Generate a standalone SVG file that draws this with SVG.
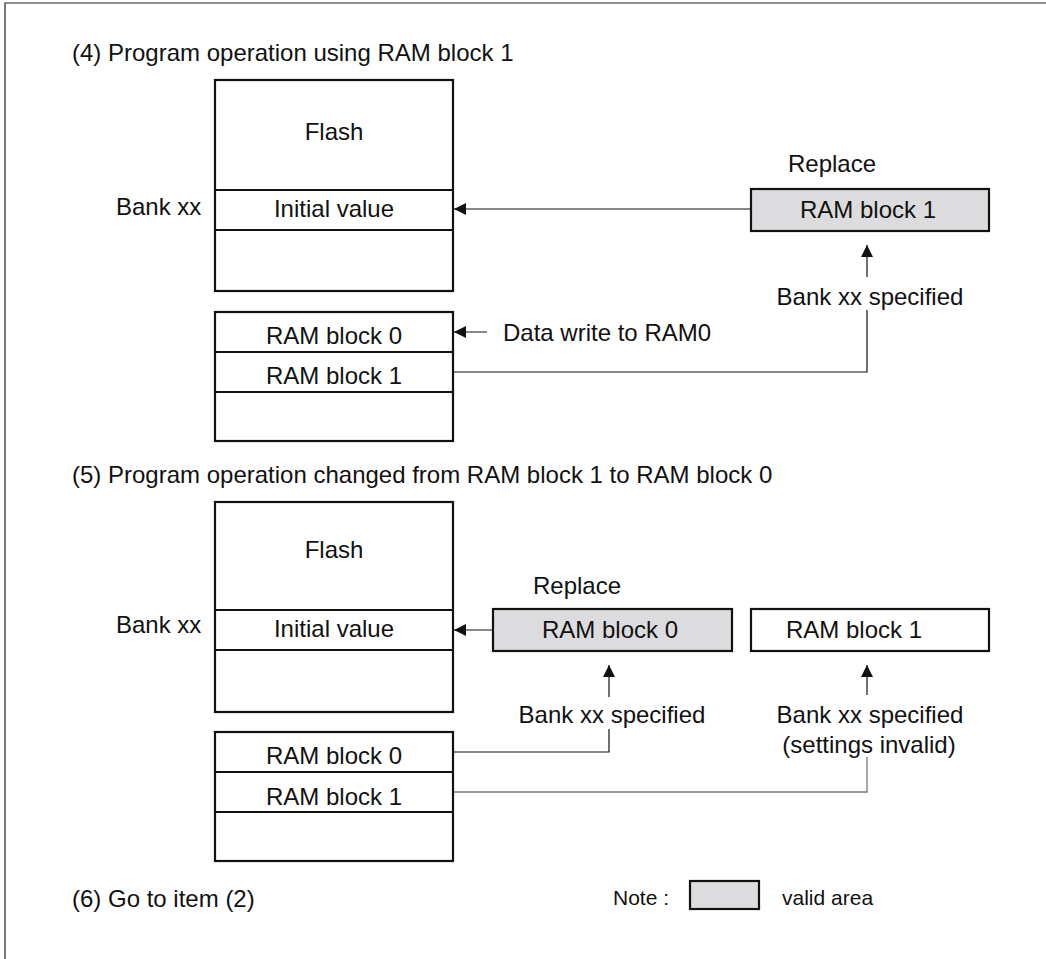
<svg xmlns="http://www.w3.org/2000/svg" width="1046" height="959" viewBox="0 0 1046 959">
<style>
text{font-family:"Liberation Sans",Arial,sans-serif;font-size:24px;fill:#111}
.c{text-anchor:middle}
.sm{font-size:21px}
.box{fill:#fff;stroke:#111;stroke-width:2.2}
.gbox{fill:#dcdcde;stroke:#111;stroke-width:2.2}
.div{stroke:#111;stroke-width:2.2;fill:none}
.ln{stroke:#111;stroke-width:1.2;fill:none}
.lg{stroke:#777;stroke-width:1.3;fill:none}
.frame{stroke:#222;stroke-width:1.2;fill:none}
</style>
<defs>
<marker id="ah" viewBox="0 0 12 12" refX="12" refY="6" markerWidth="12" markerHeight="12" markerUnits="userSpaceOnUse" orient="auto">
<path d="M0,0 L12,6 L0,12 Z" fill="#111"/>
</marker>
</defs>
<rect width="1046" height="959" fill="#fff"/>
<path class="frame" d="M5,959 V3 H1046"/>

<text x="72" y="61">(4) Program operation using RAM block 1</text>
<g id="flash1">
<rect class="box" x="215" y="80" width="238" height="211"/>
<path class="div" d="M215,190 H453 M215,230 H453"/>
<text class="c" x="334" y="140">Flash</text>
<text class="c" x="334" y="217">Initial value</text>
</g>
<text x="116" y="215">Bank xx</text>
<g id="ram1">
<rect class="box" x="215" y="312" width="238" height="129"/>
<path class="div" d="M215,352 H453 M215,392 H453"/>
<text class="c" x="334" y="344">RAM block 0</text>
<text class="c" x="334" y="384">RAM block 1</text>
</g>
<g id="rep1">
<text x="788" y="172">Replace</text>
<rect class="gbox" x="751" y="189" width="238" height="42"/>
<text class="c" x="868" y="218">RAM block 1</text>
</g>
<text class="c" x="870" y="305">Bank xx specified</text>
<text x="503" y="341">Data write to RAM0</text>

<text x="72" y="483">(5) Program operation changed from RAM block 1 to RAM block 0</text>
<g id="flash2">
<rect class="box" x="215" y="502" width="238" height="210"/>
<path class="div" d="M215,610 H453 M215,650 H453"/>
<text class="c" x="334" y="558">Flash</text>
<text class="c" x="334" y="637">Initial value</text>
</g>
<text x="116" y="633">Bank xx</text>
<g id="ram2">
<rect class="box" x="215" y="732" width="238" height="129"/>
<path class="div" d="M215,772 H453 M215,812 H453"/>
<text class="c" x="334" y="764">RAM block 0</text>
<text class="c" x="334" y="805">RAM block 1</text>
</g>
<g id="rep2">
<text x="533" y="594">Replace</text>
<rect class="gbox" x="493" y="609" width="239" height="42"/>
<text class="c" x="610" y="638">RAM block 0</text>
</g>
<g id="ramb1">
<rect class="box" x="751" y="609" width="238" height="42"/>
<text class="c" x="854" y="638">RAM block 1</text>
</g>
<text class="c" x="612" y="723">Bank xx specified</text>
<text class="c" x="870" y="723">Bank xx specified</text>
<text class="c" x="869" y="753">(settings invalid)</text>

<text x="72" y="907">(6) Go to item (2)</text>
<g id="legend">
<text class="sm" x="613" y="905">Note :</text>
<rect class="gbox" x="690" y="881" width="69" height="28" stroke-width="2"/>
<text class="sm" x="782" y="905">valid area</text>
</g>

<g id="connectors">
<path class="ln" d="M751,209 H454" marker-end="url(#ah)"/>
<path class="ln" d="M867,277 V245" marker-end="url(#ah)"/>
<path class="ln" d="M867,310 V372 H454"/>
<path class="ln" d="M487,332 H454" marker-end="url(#ah)"/>
<path class="ln" d="M493,630 H454" marker-end="url(#ah)"/>
<path class="ln" d="M609,697 V665" marker-end="url(#ah)"/>
<path class="ln" d="M867,695 V665" marker-end="url(#ah)"/>
<path class="ln" d="M609,729 V752 H454"/>
<path class="lg" d="M867,757 V792 H454"/>
</g>
</svg>
